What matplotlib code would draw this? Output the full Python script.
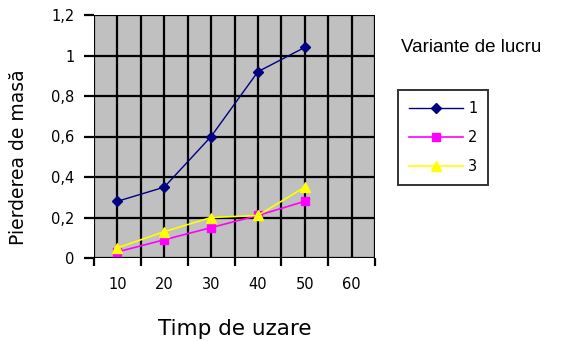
import matplotlib
matplotlib.use("Agg")
import matplotlib.pyplot as plt
from matplotlib.lines import Line2D

categories = ["10", "20", "30", "40", "50", "60"]
series_names = ["1", "2", "3"]
v1 = [0.28, 0.35, 0.60, 0.92, 1.04]
v2 = [0.03, 0.09, 0.15, 0.21, 0.28]
v3 = [0.05, 0.13, 0.20, 0.21, 0.35]
y_ticks = [0, 0.2, 0.4, 0.6, 0.8, 1.0, 1.2]
y_tick_labels = ["0", "0,2", "0,4", "0,6", "0,8", "1", "1,2"]

fig = plt.figure(figsize=(5.61, 3.41), dpi=100)
ax = fig.add_axes([94 / 561, 1 - 258 / 341, (375 - 94) / 561, (258 - 15) / 341])
ax.set_facecolor("#c0c0c0")

n = len(categories)
ax.set_xlim(0.5, n + 0.5)
ax.set_ylim(0, 1.2)

# grid: horizontal at major y ticks, vertical at category centres and boundaries
for y in y_ticks:
    ax.axhline(y, color="black", lw=1.6, zorder=1)
xs_grid = [0.5 + 0.5 * i for i in range(2 * n + 1)]
for x in xs_grid:
    ax.axvline(x, color="black", lw=1.6, zorder=1)

xpos = list(range(1, len(v1) + 1))
ax.plot(xpos, v1, color="#000080", marker="D", ms=5.5, lw=1.0, zorder=3)
ax.plot(xpos, v2, color="#ff00ff", marker="s", ms=6, lw=1.2, zorder=3)
ax.plot(xpos, v3, color="#ffff00", marker="^", ms=7.5, lw=1.2, zorder=4)

for s in ax.spines.values():
    s.set_visible(False)

tick_font = dict(family="DejaVu Sans", size=10.5)
ax.set_yticks(y_ticks)
ax.set_yticklabels(y_tick_labels, fontdict=tick_font)
ax.set_xticks([0.5 + i for i in range(n + 1)], minor=False)
ax.set_xticklabels([])
ax.set_xticks(list(range(1, n + 1)), minor=True)
ax.set_xticklabels(categories, minor=True, fontdict=tick_font)
ax.tick_params(axis="x", which="major", length=6, width=1.6, color="black", direction="out")
ax.tick_params(axis="x", which="minor", length=0, pad=14)
ax.tick_params(axis="y", length=7, width=1.6, color="black", direction="out", pad=7)

ax.set_xlabel("Timp de uzare", fontsize=15.5, labelpad=19, family="DejaVu Sans")
ax.set_ylabel("Pierderea de masă", fontsize=13.5, family="DejaVu Sans")
ax.yaxis.set_label_coords(-0.235, 0.415)

fig.text(401 / 561, 1 - 47 / 341, "Variante de lucru", fontsize=13.5,
         family="Liberation Sans", va="center", ha="left")

handles = [
    Line2D([], [], color="#000080", marker="D", ms=5.5, lw=1.0),
    Line2D([], [], color="#ff00ff", marker="s", ms=6, lw=1.2),
    Line2D([], [], color="#ffff00", marker="^", ms=7.5, lw=1.2),
]
leg = fig.legend(handles, series_names, loc="upper left",
                 bbox_to_anchor=(398 / 561, 1 - 90 / 341),
                 frameon=True, fancybox=False, edgecolor="black",
                 prop=dict(family="DejaVu Sans", size=10.5),
                 handlelength=3.7, labelspacing=0.95,
                 borderpad=0.75, handletextpad=0.35, borderaxespad=0)
leg.get_frame().set_linewidth(1.4)

fig.savefig("out.png", dpi=100, facecolor="white")
